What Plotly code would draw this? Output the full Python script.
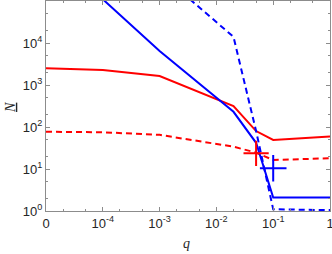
import plotly.graph_objects as go

# q values; q = 0 is drawn at the 1e-5 position of the log axis (labelled "0")
Q_ZERO_POS = 1e-5
q = [0, 1e-4, 1e-3, 2e-2, 5e-2, 1e-1, 1]
q_pos = [Q_ZERO_POS if v == 0 else v for v in q]

red_solid = [2500, 2280, 1630, 316, 80, 49, 59]
red_dashed = [77, 75, 65, 34, 24.5, 16.4, 18]
blue_solid = [None, 1.1e5, 6450, 230, 42, 2.1, 2.1]
blue_dashed = [None, None, 4.6e5, 14000, 80, 1.1, 1.05]

red_marker_q, red_marker_N = [0.05], [23.6]
blue_marker_q, blue_marker_N = [0.1], [10.4]

x_tickvals = [1e-5, 1e-4, 1e-3, 1e-2, 1e-1, 1]
x_ticktext = ["0", "10<sup>-4</sup>", "10<sup>-3</sup>", "10<sup>-2</sup>", "10<sup>-1</sup>", "1"]
y_tickvals = [1, 10, 100, 1000, 10000]
y_ticktext = ["10<sup>0</sup>", "10<sup>1</sup>", "10<sup>2</sup>", "10<sup>3</sup>", "10<sup>4</sup>"]

RED = "#ff0000"
BLUE = "#0000ff"
TXT = "#262626"

fig = go.Figure()
fig.add_trace(go.Scatter(x=q_pos, y=red_solid, mode="lines", line=dict(color=RED, width=2)))
fig.add_trace(go.Scatter(x=q_pos, y=red_dashed, mode="lines", line=dict(color=RED, width=2, dash="6px,4px")))
fig.add_trace(go.Scatter(x=q_pos, y=blue_solid, mode="lines", line=dict(color=BLUE, width=2)))
fig.add_trace(go.Scatter(x=q_pos, y=blue_dashed, mode="lines", line=dict(color=BLUE, width=2, dash="6px,4px")))
fig.add_trace(go.Scatter(x=red_marker_q, y=red_marker_N, mode="markers",
                         marker=dict(symbol="cross-thin", size=18, line=dict(color=RED, width=2))))
fig.add_trace(go.Scatter(x=blue_marker_q, y=blue_marker_N, mode="markers",
                         marker=dict(symbol="cross-thin", size=19, line=dict(color=BLUE, width=2))))

axis_common = dict(
    showgrid=False, zeroline=False, showline=True, linecolor="#8c8c8c", linewidth=1,
    mirror="allticks", ticks="inside", ticklen=4, tickcolor="#8c8c8c", tickwidth=1,
    minor=dict(ticks="inside", ticklen=2, tickcolor="#8c8c8c", tickwidth=1, showgrid=False),
    tickfont=dict(family="Liberation Sans, Arial, sans-serif", size=13, color=TXT),
    automargin=False, ticklabeloverflow="allow",
)

fig.update_xaxes(type="log", range=[-5, 0], tickvals=x_tickvals, ticktext=x_ticktext, **axis_common)
fig.update_yaxes(type="log", range=[0, 5], tickvals=y_tickvals, ticktext=y_ticktext, **axis_common)

fig.add_annotation(text="<i>q</i>", xref="paper", yref="paper", x=0.493, y=-0.157,
                   xanchor="center", yanchor="middle", showarrow=False,
                   font=dict(family="Liberation Serif, serif", size=14, color=TXT))
fig.add_annotation(text="<u><i>N</i></u>", xref="paper", yref="paper", x=-0.127, y=0.495,
                   xanchor="center", yanchor="middle", showarrow=False, textangle=-90,
                   font=dict(family="Liberation Serif, serif", size=14, color=TXT))

fig.update_layout(
    width=332, height=254, showlegend=False,
    margin=dict(l=46, r=2, t=1, b=43),
    plot_bgcolor="white", paper_bgcolor="white",
)

fig.write_html("out.html", config={"displayModeBar": False, "staticPlot": True},
               post_script="document.body.style.margin='0';document.body.style.padding='0';"
                           "document.body.style.overflow='hidden';")
